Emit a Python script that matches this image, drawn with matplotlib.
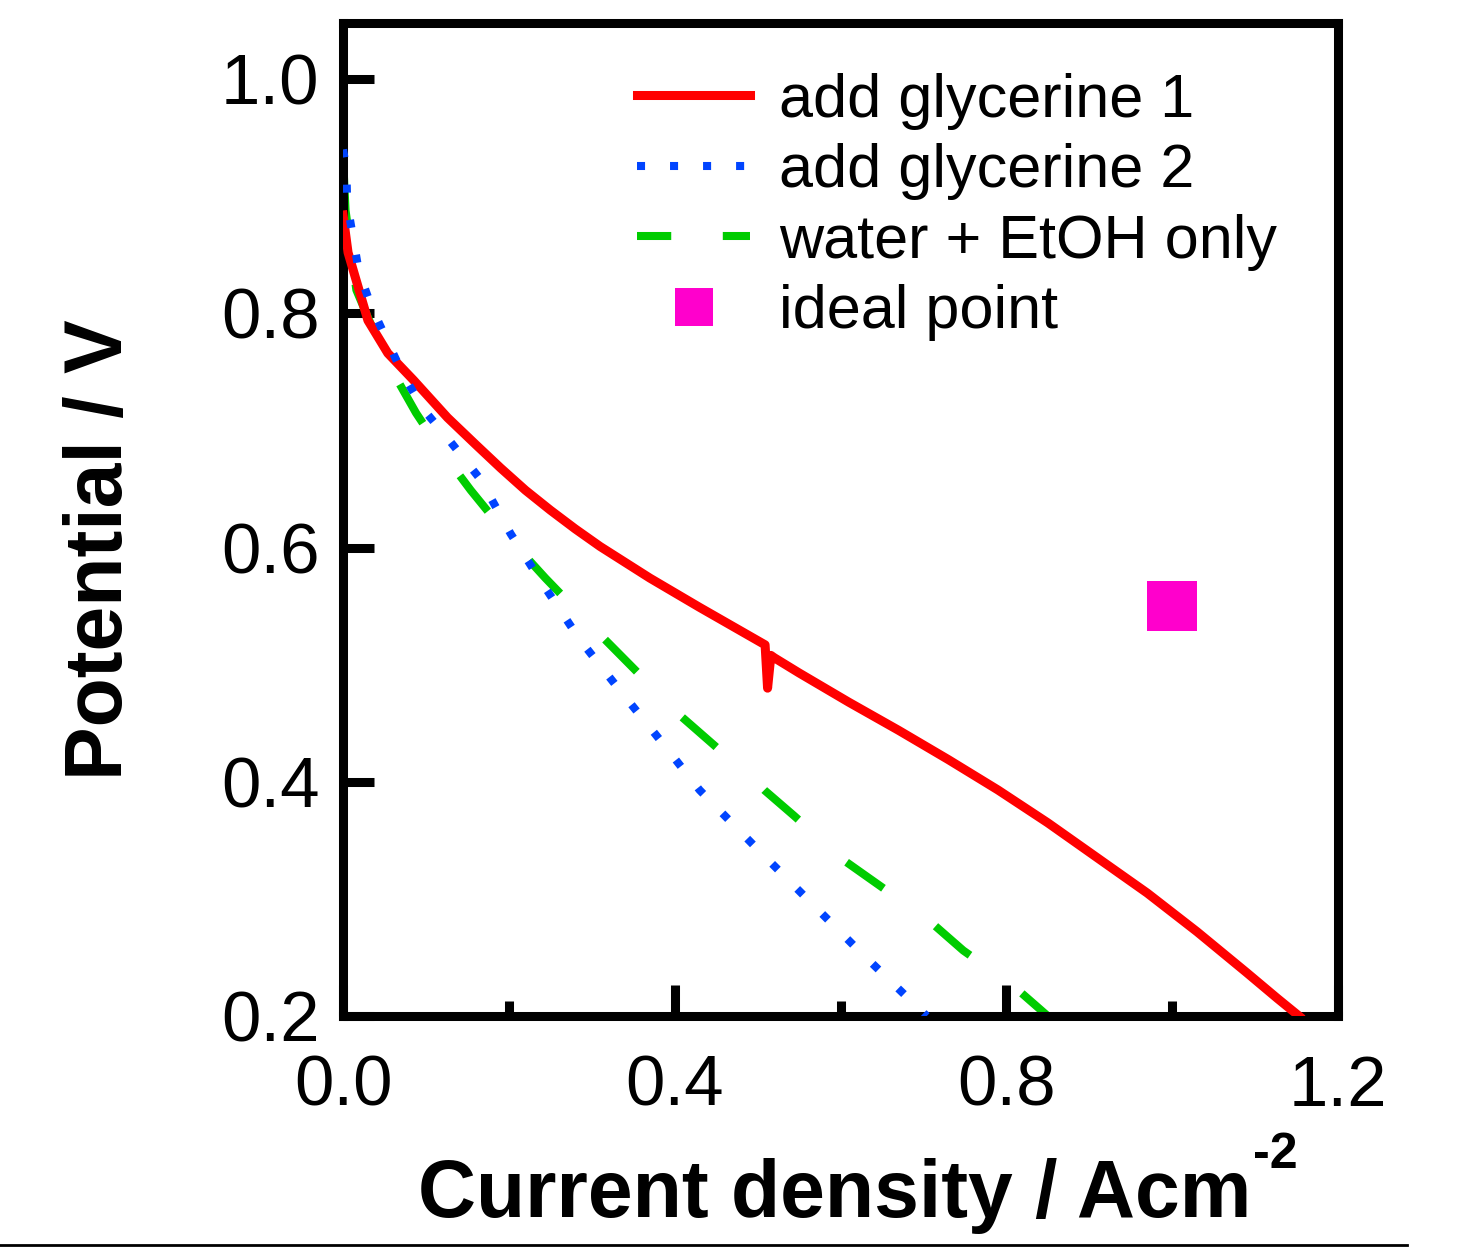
import matplotlib
matplotlib.use('Agg')

import numpy as np
import matplotlib.pyplot as plt
from matplotlib.lines import Line2D

plt.rcParams['font.family'] = ['Liberation Sans', 'DejaVu Sans']

# add glycerine 1 (red, solid)
gly1_x = [0.0, 0.006, 0.018, 0.03, 0.054, 0.085, 0.126, 0.16, 0.19, 0.22, 0.25, 0.28, 0.31,
          0.37, 0.43, 0.509, 0.512, 0.516, 0.52, 0.55, 0.61, 0.67, 0.73, 0.79, 0.85, 0.91,
          0.97, 1.03, 1.09, 1.127, 1.153]
gly1_y = [0.884, 0.852, 0.823, 0.794, 0.766, 0.743, 0.711, 0.688, 0.668, 0.649, 0.632, 0.616,
          0.601, 0.574, 0.549, 0.517, 0.48, 0.508, 0.506, 0.493, 0.468, 0.444, 0.419, 0.393,
          0.365, 0.335, 0.305, 0.272, 0.237, 0.215, 0.2]

# add glycerine 2 (blue, dotted)
gly2_x = [0.0, 0.004, 0.005, 0.012, 0.019, 0.034, 0.053, 0.073, 0.097, 0.13, 0.166, 0.202,
          0.238, 0.286, 0.334, 0.382, 0.43, 0.502, 0.55, 0.622, 0.704]
gly2_y = [0.94, 0.923, 0.894, 0.865, 0.836, 0.806, 0.777, 0.747, 0.718, 0.69, 0.658, 0.612,
          0.572, 0.521, 0.478, 0.436, 0.393, 0.341, 0.307, 0.256, 0.2]

# water + EtOH only (green, dashed)
etoh_x = [0.0, 0.0, 0.003, 0.016, 0.04, 0.064, 0.088, 0.118, 0.154, 0.208, 0.244, 0.304,
          0.346, 0.406, 0.448, 0.508, 0.544, 0.604, 0.646, 0.706, 0.748, 0.808, 0.85]
etoh_y = [0.962, 0.933, 0.888, 0.82, 0.78, 0.745, 0.715, 0.683, 0.649, 0.602, 0.574, 0.53,
          0.5, 0.457, 0.431, 0.393, 0.371, 0.333, 0.312, 0.282, 0.256, 0.226, 0.2]

ideal_x = [1.0]
ideal_y = [0.55]

labels = ['add glycerine 1', 'add glycerine 2', 'water + EtOH only', 'ideal point']

fig = plt.figure(figsize=(14.58, 12.49), dpi=100)
ax = fig.add_axes([0.2353, 0.1865, 0.6824, 0.7951])
ax.set_xlim(0, 1.2)
ax.set_ylim(0.2, 1.048)

# dash phase for the green curve: a dash starts at the 16th point, as in the original
lw_g = 5.8
dash_on, dash_off = 5.6, 8.0
pts = ax.transData.transform(np.column_stack([etoh_x, etoh_y]))
arc = np.concatenate([[0], np.cumsum(np.hypot(np.diff(pts[:, 0]), np.diff(pts[:, 1])))])
period = (dash_on + dash_off) * lw_g
offset = ((-arc[15] * 72.0 / fig.dpi) % period) / lw_g

ax.plot(gly1_x, gly1_y, color='#ff0000', lw=6.5, solid_joinstyle='round', zorder=3)
ax.plot(gly2_x, gly2_y, color='#0044ff', lw=5.8, linestyle=(0, (1, 3.4)),
        dash_capstyle='butt', zorder=3)
ax.plot(etoh_x, etoh_y, color='#00cc00', lw=lw_g, linestyle=(offset, (dash_on, dash_off)),
        dash_capstyle='butt', zorder=2)
ax.plot(ideal_x, ideal_y, linestyle='none', marker='s', markersize=36,
        color='#ff00cc', markeredgewidth=0, zorder=4)

ax.set_xticks([0.0, 0.4, 0.8, 1.2])
ax.set_xticklabels(['0.0', '0.4', '0.8', '1.2'])
ax.set_xticks([0.2, 0.6, 1.0], minor=True)
ax.set_yticks([0.2, 0.4, 0.6, 0.8, 1.0])
ax.set_yticklabels(['0.2', '0.4', '0.6', '0.8', '1.0'])
ax.tick_params(which='major', direction='in', length=22, width=6.5, labelsize=51,
               top=False, right=False)
ax.tick_params(axis='x', which='major', pad=28)
ax.tick_params(axis='y', which='major', pad=17)
ax.tick_params(which='minor', direction='in', length=11, width=6.5, top=False, right=False)
for s in ax.spines.values():
    s.set_linewidth(6.5)

ax.set_xlabel('Current density / Acm', fontsize=58, fontweight='bold')
ax.xaxis.set_label_coords(0.4945, -0.143)
fig.text(1253 / 1458, 1 - 1168 / 1249, '-2', fontsize=36, fontweight='bold',
         ha='left', va='baseline')
ax.set_ylabel('Potential / V', fontsize=58, fontweight='bold')
ax.yaxis.set_label_coords(-0.205, 0.47)

handles = [
    Line2D([], [], color='#ff0000', lw=6.5),
    Line2D([], [], color='#0044ff', lw=5.8, linestyle=(0, (1, 3.1)), dash_capstyle='butt'),
    Line2D([], [], color='#00cc00', lw=lw_g, linestyle=(0, (4.25, 6.4)), dash_capstyle='butt'),
    Line2D([], [], color='#ff00cc', linestyle='none', marker='s', markersize=28,
           markeredgewidth=0),
]
ax.legend(handles, labels, loc='upper left', frameon=False, fontsize=44,
          handlelength=1.85, handletextpad=0.47, labelspacing=0.22, borderpad=0,
          borderaxespad=0, bbox_to_anchor=(0.2955, 0.95))

fig.add_artist(Line2D([0.0, 0.965], [0.003, 0.003], transform=fig.transFigure,
                      color='black', lw=2))

fig.savefig('out.png', dpi=100)
